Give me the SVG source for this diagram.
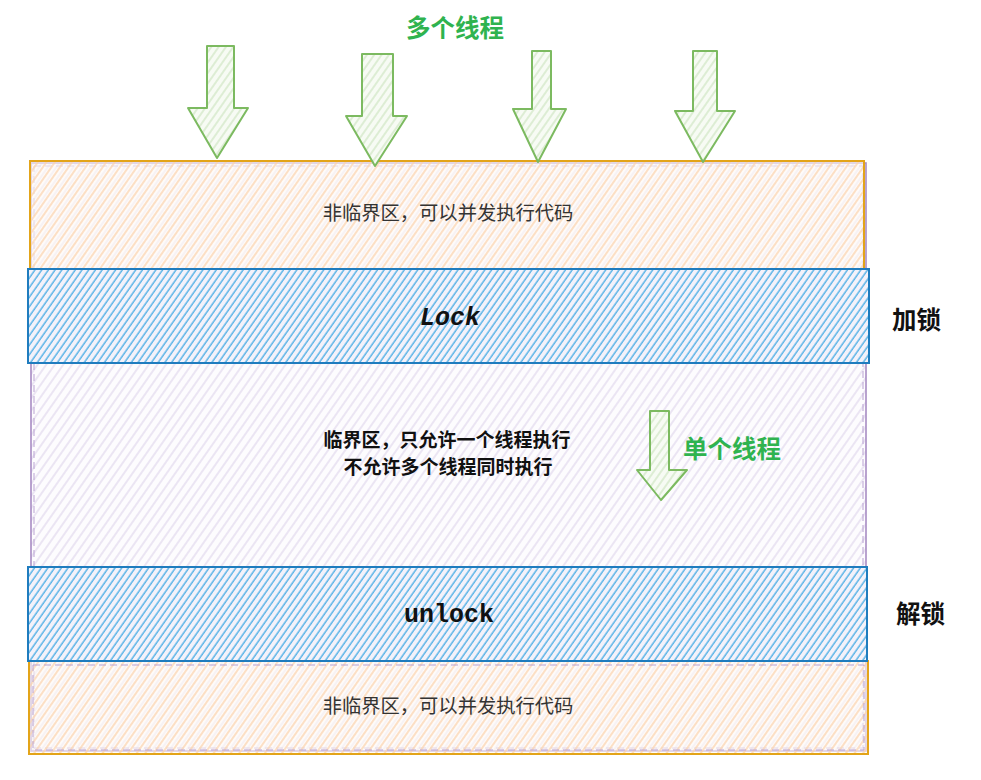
<svg xmlns="http://www.w3.org/2000/svg" width="981" height="780" viewBox="0 0 981 780">
<style>
.cn{font-family:"Noto Sans CJK SC","Noto Sans",sans-serif;}
.green{fill:#2fb34f;font-weight:bold;font-size:24.5px;}
.black{fill:#111;font-weight:bold;font-size:24.5px;}
.note{fill:#333;font-size:19.3px;}
.bnote{fill:#111;font-size:19px;font-weight:bold;}
.mono{font-family:"Liberation Mono","Courier New",monospace;font-weight:bold;font-size:25px;fill:#111;}
.arrow{fill:url(#hg);stroke:#7cba60;stroke-width:2;stroke-linejoin:round;}
</style>
<defs>
<pattern id="hp" width="7" height="7" patternUnits="userSpaceOnUse" patternTransform="rotate(35)">
<rect width="7" height="7" fill="#fdfcfe"/>
<line x1="2" y1="0" x2="2" y2="7" stroke="#e0d6ec" stroke-width="1.2"/>
</pattern>
<pattern id="ho" width="7" height="7" patternUnits="userSpaceOnUse" patternTransform="rotate(35)">
<rect width="7" height="7" fill="#fffaf5" opacity="0.6"/>
<line x1="5" y1="0" x2="5" y2="7" stroke="#fbd3ae" stroke-width="1.4"/>
</pattern>
<pattern id="hb" width="5.5" height="5.5" patternUnits="userSpaceOnUse" patternTransform="rotate(35)">
<rect width="5.5" height="5.5" fill="#f4f2fa"/>
<line x1="2" y1="0" x2="2" y2="5.5" stroke="#5cb4e7" stroke-width="1.5"/>
</pattern>
<pattern id="hg" width="6" height="6" patternUnits="userSpaceOnUse" patternTransform="rotate(35)">
<rect width="6" height="6" fill="#f7fbf4"/>
<line x1="2" y1="0" x2="2" y2="6" stroke="#cfe6c3" stroke-width="1.3"/>
</pattern>
</defs>

<g id="critical-area">
<rect x="31" y="163" width="835" height="588" fill="url(#hp)" stroke="#a88cc4" stroke-width="1.6"/>
<rect x="34" y="166" width="829" height="582" fill="none" stroke="#b9a2d2" stroke-width="1" stroke-dasharray="7 4"/>
</g>

<g id="non-critical-top">
<rect x="30" y="161" width="834" height="108" fill="url(#ho)" stroke="#e3a419" stroke-width="2"/>
<text class="cn note" x="448" y="220" text-anchor="middle">非临界区，可以并发执行代码</text>
</g>

<g id="non-critical-bottom">
<rect x="29" y="661" width="839" height="93" fill="url(#ho)" stroke="#e3a419" stroke-width="2"/>
<rect x="33" y="665" width="831" height="85" fill="none" stroke="#b9a2d2" stroke-width="1" stroke-dasharray="7 4"/>
<text class="cn note" x="448" y="713" text-anchor="middle">非临界区，可以并发执行代码</text>
</g>

<g id="lock">
<rect x="28" y="269" width="841" height="94" fill="url(#hb)" stroke="#1f7cbe" stroke-width="2"/>
<text class="mono" x="450" y="325" text-anchor="middle" font-style="italic">Lock</text>
</g>

<g id="unlock">
<rect x="28" y="567" width="839" height="94" fill="url(#hb)" stroke="#1f7cbe" stroke-width="2"/>
<text class="mono" x="449" y="622" text-anchor="middle">unlock</text>
</g>

<g id="critical-text">
<text class="cn bnote" x="447" y="447" text-anchor="middle">临界区，只允许一个线程执行</text>
<text class="cn bnote" x="448" y="474" text-anchor="middle">不允许多个线程同时执行</text>
</g>

<g id="multi-threads">
<text class="cn green" x="455" y="37" text-anchor="middle">多个线程</text>
<polygon class="arrow" points="207,46 234,46 234,108 248,108 217,158 188,108 207,108"/>
<polygon class="arrow" points="362,54 393,54 393,116 407,116 375,166 346,116 362,116"/>
<polygon class="arrow" points="532,51 551,51 551,109 566,109 538,162 513,109 532,109"/>
<polygon class="arrow" points="693,51 717,51 717,111 735,111 703,162 675,111 693,111"/>
</g>

<g id="single-thread">
<polygon class="arrow" points="650,411 669,411 669,470 687,470 661,500 637,470 650,470"/>
<text class="cn green" x="683" y="458">单个线程</text>
</g>

<g id="labels">
<text class="cn black" x="892" y="329">加锁</text>
<text class="cn black" x="896" y="623">解锁</text>
</g>
</svg>
